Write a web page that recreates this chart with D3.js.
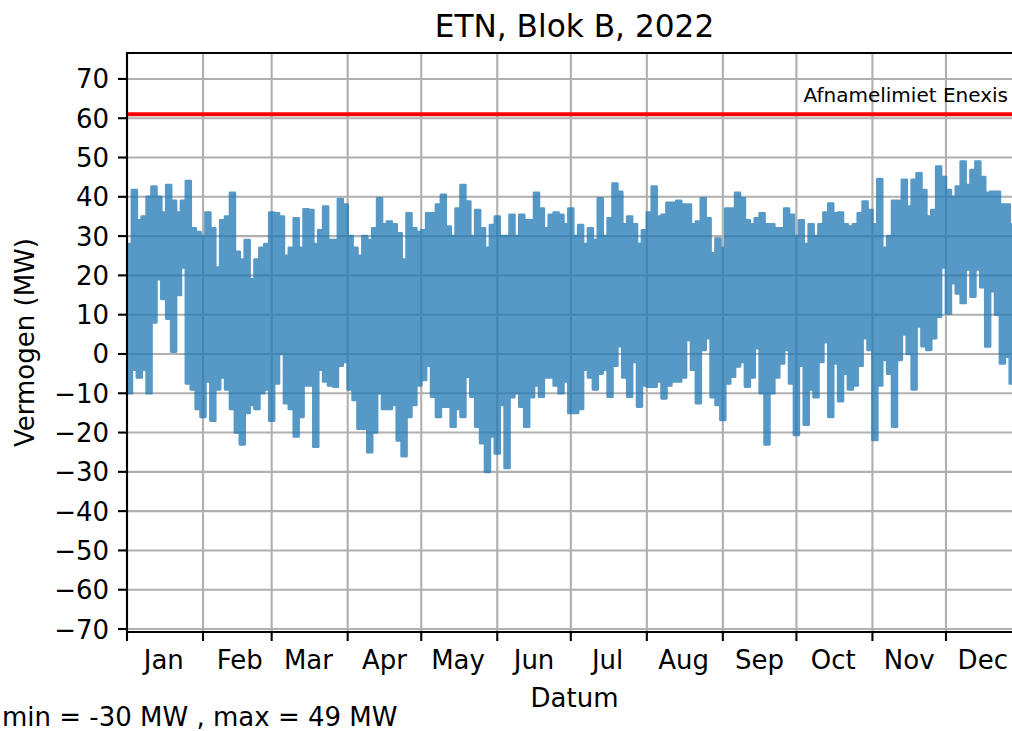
<!DOCTYPE html>
<html>
<head>
<meta charset="utf-8">
<script src="https://cdn.jsdelivr.net/npm/d3@7"></script>
<style>
  body { margin: 0; background: #fff; }
  svg { display: block; font-family: "DejaVu Sans", sans-serif; }
</style>
</head>
<body>
<svg id="chart" width="1012" height="731"></svg>
<script>
// ---------------- data ----------------
const titleText = "ETN, Blok B, 2022";
const xLabelText = "Datum";
const yLabelText = "Vermogen (MW)";
const monthLabels = ["Jan","Feb","Mar","Apr","May","Jun","Jul","Aug","Sep","Oct","Nov","Dec"];
const yTickValues = [-70,-60,-50,-40,-30,-20,-10,0,10,20,30,40,50,60,70];
const limitValue = 61;
const limitLabel = "Afnamelimiet Enexis";
const summaryMin = -30;
const summaryMax = 49;
const binDays = 2; // each value below is the max / min of a 2-day window, starting 1 Jan 2022

const highValues = [
  28, 41.7, 34, 35, 40, 42.6, 40, 36, 43, 39, 36, 39, 44, 32, 31, 30, 36, 32, 22, 34, 35, 41, 26, 24, 29, 19, 24, 27, 28, 36,
  35.8, 35, 25, 27, 34.5, 27, 36.8, 36.6, 28, 31.5, 37.5, 29, 29, 39.4, 38, 30, 27, 25, 30, 29, 32, 39.6, 33, 33.7, 33, 30.7, 24, 35.8, 32, 31,
  31.5, 35.8, 35.8, 38, 40.5, 32.4, 30, 37, 43, 38.8, 30, 36.6, 32, 27, 32.8, 35, 30, 30, 35.4, 30, 35.4, 34, 34, 41, 37, 32, 35.4, 36, 35.4, 33, 37,
  30, 32.8, 28, 32, 29, 39.6, 30, 34.5, 43.4, 41.3, 33, 35, 33, 28, 31.5, 36, 42.6, 35, 35.4, 38.5, 38.5, 39, 38, 38, 33, 33.7, 39.6, 34.5, 25.6, 29.4, 27,
  37, 37, 41, 39.6, 34, 33, 34.5, 35.8, 33, 33, 32, 32, 37, 35.4, 30, 34, 28, 33, 30, 33, 36, 38.3, 35.8, 36, 33, 32.4, 33, 35.8, 38.8, 36.6,
  33, 44.5, 27, 30, 39, 39, 44.3, 37.5, 44.3, 46, 41.7, 35, 36.6, 47.7, 45, 41.7, 40, 42.6, 49, 43, 46.8, 49, 45, 41, 41.3, 41.3, 38, 38, 33, 30, 28
];
const lowValues = [
  -10, -4, -6, -4, -10, 8, 19, 14, 9, 0.6, 15, 22, -7.5, -9, -14, -16, -7, -17, -9, -6, -9, -14, -20, -23, -15, -13, -14, -10, -9, -17,
  -7.5, 0, -12.5, -14, -21, -16, -8, -8, -23.6, -4, -7, -8, -8.3, -3, -2, -9, -11.7, -19, -19, -25, -20, -10, -14, -14, -13, -22, -26, -16, -13, -8,
  -6.6, -3, -10.9, -16, -13.4, -13.4, -18.5, -14, -16, -5.8, -10.9, -18.5, -22.7, -30, -21, -25.3, -13, -29, -11, -10, -13.4, -18.5, -11, -8, -10.9, -6, -6, -8, -10, -7, -15,
  -15, -14, -4, -6, -9, -5, -4, -10.9, -3, 2, -6, -10.9, -2, -13.4, -8, -8.3, -8.3, -7, -11.3, -8, -7, -7, -6, 3.6, -4, -12.5, 1, 4, -11, -13, -16.8,
  -7.5, -5.8, -3.2, -2, -8.3, -6, 1.5, -10, -23, -10, -6, -2.4, 1, -7.5, -20.6, -3, -18, -9, -11, -2, 3, -16, -2.4, -12, -5, -9, -8, -3, 4, 1,
  -21.9, -8, -1.5, -5, -18.5, -1.5, 5, 0, -9, 7, 2, 1, 4, 9.5, 22, 10.3, 18, 15.4, 13, 21.5, 14.6, 21.5, 17, 1.9, 16, 10, -2.4, -0.7, -7.5, -5, -3
];

// ---------------- layout ----------------
const W = 1012, H = 731;
const plot = { left: 127, top: 53, right: 1022, bottom: 632 };
const fontMain = 26, fontTitle = 31.2, fontNote = 20;
const blue = "#1f77b4", gridColor = "#b0b0b0";
const spineW = 2.1, tickLen = 9, tickPad = 9;

const start = new Date(Date.UTC(2022, 0, 1));
const end = new Date(Date.UTC(2023, 0, 1));

const x = d3.scaleUtc().domain([start, end]).range([plot.left, plot.right]);
const y = d3.scaleLinear().domain([-70.76, 76.6]).range([plot.bottom, plot.top]);

const svg = d3.select("#chart");

svg.append("defs").append("clipPath").attr("id", "clip")
  .append("rect")
  .attr("x", plot.left).attr("y", plot.top)
  .attr("width", plot.right - plot.left).attr("height", plot.bottom - plot.top);

// grid
const monthStarts = d3.utcMonth.range(start, end);
const grid = svg.append("g");
grid.selectAll("line.h").data(yTickValues).join("line")
  .attr("x1", plot.left).attr("x2", plot.right)
  .attr("y1", d => y(d)).attr("y2", d => y(d))
  .attr("stroke", gridColor).attr("stroke-width", spineW);
grid.selectAll("line.v").data(monthStarts).join("line")
  .attr("x1", d => x(d)).attr("x2", d => x(d))
  .attr("y1", plot.top).attr("y2", plot.bottom)
  .attr("stroke", gridColor).attr("stroke-width", spineW);

// data
const series = highValues.map((hi, i) => ({
  date: d3.utcDay.offset(start, i * binDays), hi, lo: lowValues[i]
}));
series.push({ date: end, hi: highValues[highValues.length - 1], lo: lowValues[lowValues.length - 1] });

const area = d3.area()
  .x(d => x(d.date))
  .y0(d => y(d.lo))
  .y1(d => y(d.hi))
  .curve(d3.curveStepAfter);

svg.append("g").attr("clip-path", "url(#clip)").attr("opacity", 0.75)
  .append("path")
  .datum(series)
  .attr("d", area)
  .attr("fill", blue)
  .attr("stroke", blue)
  .attr("stroke-width", 2.6)
  .attr("stroke-linejoin", "round");

// limit line
svg.append("line")
  .attr("x1", plot.left).attr("x2", plot.right)
  .attr("y1", y(limitValue)).attr("y2", y(limitValue))
  .attr("stroke", "#ff0000").attr("stroke-width", 3.9);

svg.append("text")
  .attr("x", 1008).attr("y", y(limitValue) - 12)
  .attr("text-anchor", "end")
  .attr("font-size", fontNote).attr("fill", "#000")
  .text(limitLabel);

// spines
const sp = svg.append("g").attr("stroke", "#000").attr("stroke-width", spineW).attr("stroke-linecap", "square");
sp.append("line").attr("x1", plot.left).attr("x2", plot.left).attr("y1", plot.top).attr("y2", plot.bottom);
sp.append("line").attr("x1", plot.left).attr("x2", plot.right).attr("y1", plot.bottom).attr("y2", plot.bottom);
sp.append("line").attr("x1", plot.left).attr("x2", plot.right).attr("y1", plot.top).attr("y2", plot.top);
sp.append("line").attr("x1", plot.right).attr("x2", plot.right).attr("y1", plot.top).attr("y2", plot.bottom);

// y ticks
const fmt = d3.format("d");
const yt = svg.append("g");
yt.selectAll("line").data(yTickValues).join("line")
  .attr("x1", plot.left - tickLen).attr("x2", plot.left)
  .attr("y1", d => y(d)).attr("y2", d => y(d))
  .attr("stroke", "#000").attr("stroke-width", spineW);
yt.selectAll("text").data(yTickValues).join("text")
  .attr("x", plot.left - tickLen - tickPad)
  .attr("y", d => y(d))
  .attr("dy", "0.365em")
  .attr("text-anchor", "end")
  .attr("font-size", fontMain)
  .text(d => fmt(d));

// x ticks (month starts) and labels (mid-month)
const xt = svg.append("g");
xt.selectAll("line").data(monthStarts).join("line")
  .attr("x1", d => x(d)).attr("x2", d => x(d))
  .attr("y1", plot.bottom).attr("y2", plot.bottom + tickLen)
  .attr("stroke", "#000").attr("stroke-width", spineW);
xt.selectAll("text").data(monthStarts).join("text")
  .attr("x", d => x(d3.utcDay.offset(d, 15)))
  .attr("y", 668.5)
  .attr("text-anchor", "middle")
  .attr("font-size", fontMain)
  .text((d, i) => monthLabels[i]);

// labels
svg.append("text")
  .attr("x", (plot.left + plot.right) / 2).attr("y", 36.5)
  .attr("text-anchor", "middle").attr("font-size", fontTitle)
  .text(titleText);

svg.append("text")
  .attr("x", (plot.left + plot.right) / 2).attr("y", 707)
  .attr("text-anchor", "middle").attr("font-size", fontMain)
  .text(xLabelText);

svg.append("text")
  .attr("transform", `translate(34, ${(plot.top + plot.bottom) / 2}) rotate(-90)`)
  .attr("text-anchor", "middle").attr("font-size", fontMain)
  .text(yLabelText);

svg.append("text")
  .attr("x", 2).attr("y", 726)
  .attr("text-anchor", "start").attr("font-size", fontMain)
  .text(`min = ${summaryMin} MW , max = ${summaryMax} MW`);
</script>
</body>
</html>
